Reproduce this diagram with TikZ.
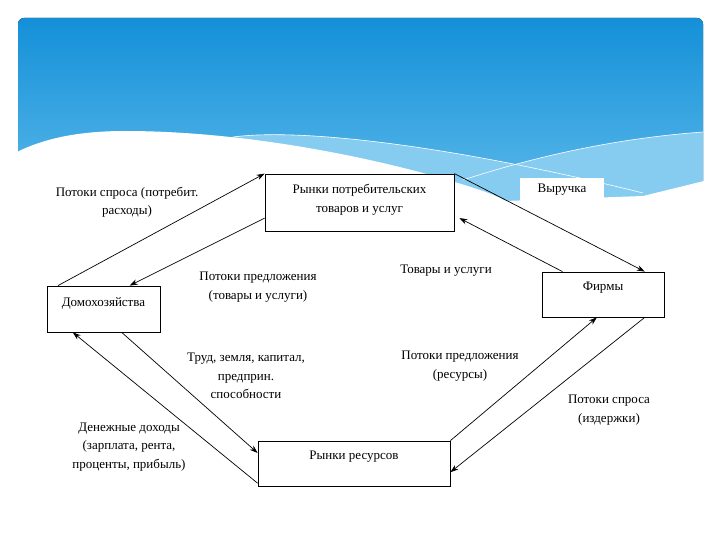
\documentclass[tikz,border=0pt]{standalone}
\usepackage{fontspec}
\setmainfont{Liberation Serif}
\usetikzlibrary{calc,arrows.meta}
\definecolor{hdtop}{HTML}{1490D8}
\definecolor{hdbot}{HTML}{5CB9EA}
\definecolor{band}{HTML}{86CCF0}
\begin{document}
\begin{tikzpicture}[x=1pt,y=-1pt,
  box/.style={draw,line width=0.8pt,fill=white,inner sep=0pt},
  lbl/.style={font=\fontsize{13}{18.5}\selectfont,align=center,inner sep=0pt},
  arr/.style={line width=0.7pt,-{Stealth[length=8pt,width=5.5pt]}}]
\useasboundingbox (0,0) rectangle (720,540);
% header
\fill[top color=hdtop,bottom color=hdbot,rounded corners=6pt] (18,18) rectangle (703,205);
\fill[band] (233,137) .. controls (300,128) and (450,145) .. (643,193) -- (643,206) -- (233,206) -- cycle;
\fill[band] (463,180) .. controls (540,155) and (620,138) .. (703,132) -- (703,206) -- (463,206) -- cycle;
\fill[white] (17,152) .. controls (45,138) and (80,131) .. (125,131) .. controls (250,131) and (390,160) .. (480,190) .. controls (495,195) and (505,200) .. (515,206) -- (17,206) -- cycle;
\fill[white] (505,201) -- (643,196) -- (704,181) -- (704,207) -- (505,207) -- cycle;
\draw[white,line width=0.6pt] (233,137) .. controls (300,128) and (450,145) .. (643,193);
\draw[white,line width=0.6pt] (463,180) .. controls (540,155) and (620,138) .. (703,132);
% boxes
\node[box,minimum width=189pt,minimum height=57pt] (rcg) at (359.5,202.5) {};
\node[box,minimum width=113pt,minimum height=46pt] (dom) at (103.5,309) {};
\node[box,minimum width=122pt,minimum height=45pt] (firm) at (603,294.5) {};
\node[box,minimum width=192pt,minimum height=45pt] (rr) at (354,463.5) {};
\node[lbl] (rcgt) at ($(rcg.center)+(0,-3)$) {Рынки потребительских\\товаров и услуг};
\node[lbl] (domt) at ($(dom.center)+(0,-6)$) {Домохозяйства};
\node[lbl] (firmt) at ($(firm.center)+(0,-6.5)$) {Фирмы};
\node[lbl] (rrt) at ($(rr.center)+(0,-6.5)$) {Рынки ресурсов};
\node[lbl,fill=white,minimum width=84pt,minimum height=23pt] (rev) at (562,190) {Выручка};
% labels
\node[lbl] (l1) at (127,202) {Потоки спроса (потребит.\\расходы)};
\node[lbl] (l2) at (258,287) {Потоки предложения\\(товары и услуги)};
\node[lbl] (l3) at (446,271) {Товары и услуги};
\node[lbl] (l4) at (246,376) {Труд, земля, капитал,\\предприн.\\способности};
\node[lbl] (l5) at (460,366) {Потоки предложения\\(ресурсы)};
\node[lbl] (l6) at (129,447) {Денежные доходы\\(зарплата, рента,\\проценты, прибыль)};
\node[lbl] (l7) at (609,410) {Потоки спроса\\(издержки)};
% connectors
\draw[arr] ($(dom.north west)!0.1!(dom.north east)$) -- (rcg.north west);
\draw[arr] ($(rcg.north west)!0.77!(rcg.south west)$) -- ($(dom.north west)!0.73!(dom.north east)$);
\draw[arr] (rcg.north east) -- ($(firm.north west)!0.84!(firm.north east)$);
\draw[arr] ($(firm.north west)!0.17!(firm.north east)$) -- ($(rcg.north east)!0.77!(rcg.south east)+(5,0)$);
\draw[arr] (rr.north east) -- ($(firm.south west)!0.45!(firm.south east)$);
\draw[arr] ($(firm.south west)!0.84!(firm.south east)$) -- ($(rr.north east)!0.69!(rr.south east)$);
\draw[arr] ($(rr.north west)!0.93!(rr.south west)$) -- ($(dom.south west)!0.23!(dom.south east)$);
\draw[arr] ($(dom.south west)!0.66!(dom.south east)$) -- ($(rr.north west)!0.27!(rr.south west)$);
\end{tikzpicture}
\end{document}
